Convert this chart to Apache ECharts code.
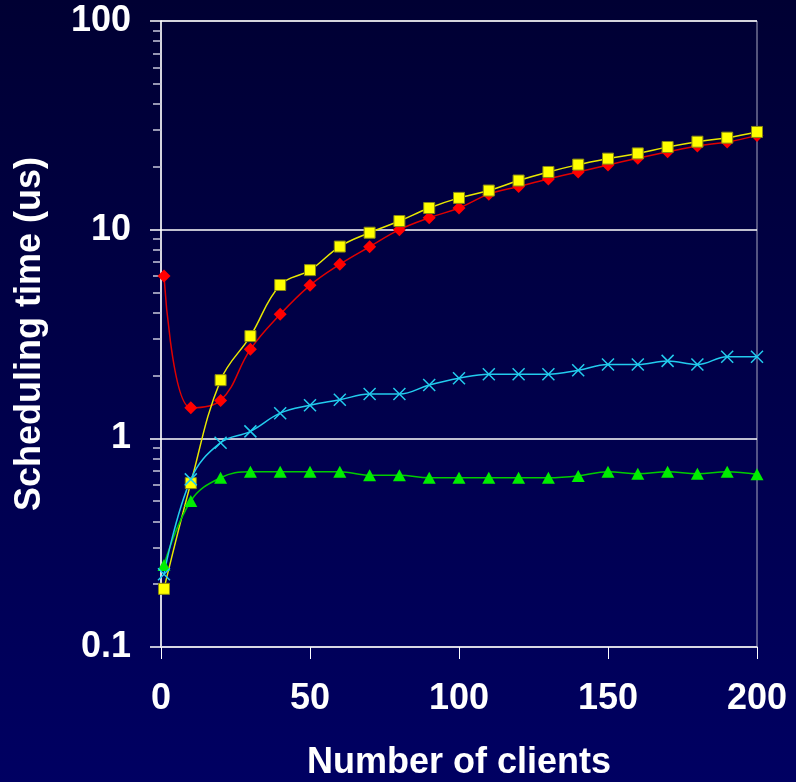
<!DOCTYPE html>
<html>
<head>
<meta charset="utf-8">
<script src="https://cdn.jsdelivr.net/npm/echarts@6/dist/echarts.min.js"></script>
<style>
html,body{margin:0;padding:0;background:#000040;}
#chart{width:796px;height:782px;}
</style>
</head>
<body>
<div id="chart"></div>
<script>
const clients = [1, 10, 20, 30, 40, 50, 60, 70, 80, 90, 100, 110, 120, 130, 140, 150, 160, 170, 180, 190, 200];
const redSeries = [6.0, 1.40, 1.52, 2.67, 3.93, 5.41, 6.82, 8.28, 10.0, 11.4, 12.7, 14.8, 16.1, 17.5, 18.9, 20.4, 22.0, 23.6, 25.2, 26.3, 28.3];
const yellowSeries = [0.19, 0.61, 1.90, 3.09, 5.43, 6.40, 8.3, 9.67, 11.0, 12.7, 14.2, 15.4, 17.2, 18.9, 20.5, 21.9, 23.2, 24.9, 26.4, 27.6, 29.4];
const cyanSeries = [0.223, 0.636, 0.953, 1.08, 1.32, 1.44, 1.53, 1.63, 1.63, 1.80, 1.94, 2.03, 2.03, 2.03, 2.12, 2.26, 2.26, 2.35, 2.26, 2.46, 2.46];
const greenSeries = [0.247, 0.501, 0.647, 0.692, 0.692, 0.692, 0.692, 0.665, 0.665, 0.647, 0.647, 0.647, 0.647, 0.647, 0.66, 0.692, 0.677, 0.692, 0.677, 0.692, 0.672];
const xTicks = [0, 50, 100, 150, 200];
const yMajorTicks = [0.1, 1, 10, 100];
const yMinorTicks = [0.2,0.3,0.4,0.5,0.6,0.7,0.8,0.9,2,3,4,5,6,7,8,9,20,30,40,50,60,70,80,90];

const pairs = arr => clients.map((c, i) => [c, arr[i]]);
const font = '"Liberation Sans", Arial, sans-serif';
const labelStyle = {color: '#ffffff', fontFamily: font, fontWeight: 'bold', fontSize: 36};

const chart = echarts.init(document.getElementById('chart'), null, {renderer: 'canvas'});
chart.setOption({
  animation: false,
  backgroundColor: {
    type: 'linear', x: 0, y: 0, x2: 0, y2: 1,
    colorStops: [{offset: 0, color: '#000033'}, {offset: 1, color: '#000062'}]
  },
  grid: {left: 161, right: 39, top: 21, bottom: 135, containLabel: false, outerBoundsMode: 'none',
         show: true, borderColor: '#a8a8c0', borderWidth: 1, backgroundColor: 'transparent'},
  xAxis: {
    type: 'value', min: 0, max: 200, interval: 50,
    name: 'Number of clients', nameLocation: 'middle', nameGap: 98,
    nameTextStyle: labelStyle,
    axisLine: {show: true, lineStyle: {color: '#d8d8e4', width: 1.5}},
    axisTick: {show: true, inside: false, length: 12, lineStyle: {color: '#ffffff', width: 1}, customValues: xTicks},
    axisLabel: Object.assign({margin: 34, customValues: xTicks}, labelStyle),
    splitLine: {show: false}
  },
  yAxis: [{
    type: 'log', logBase: 10, min: 0.1, max: 100,
    name: 'Scheduling time (us)', nameLocation: 'middle', nameGap: 113,
    nameTextStyle: labelStyle,
    axisLine: {show: true, lineStyle: {color: '#ffffff', width: 1.5}},
    axisTick: {show: true, inside: false, length: 11, lineStyle: {color: '#ffffff', width: 1.5}, customValues: yMajorTicks},
    axisLabel: Object.assign({margin: 30, customValues: yMajorTicks, formatter: v => String(v)}, labelStyle),
    splitLine: {show: true, lineStyle: {color: '#ffffff', width: 1.5}}
  }, {
    type: 'log', logBase: 10, min: 0.1, max: 100, position: 'left',
    axisLine: {show: false},
    axisTick: {show: true, inside: false, length: 8, lineStyle: {color: '#c8c8dc', width: 1.5}, customValues: yMinorTicks},
    axisLabel: {show: false},
    splitLine: {show: false}
  }],
  series: [
    {
      type: 'line', name: 'red', data: pairs(redSeries), smooth: 0.4,
      symbol: 'diamond', symbolSize: [13, 13],
      lineStyle: {color: '#e00000', width: 1.5},
      itemStyle: {color: '#ff0000'}
    },
    {
      type: 'line', name: 'yellow', data: pairs(yellowSeries), smooth: 0.4,
      symbol: 'rect', symbolSize: 11,
      lineStyle: {color: '#e8e800', width: 1.5},
      itemStyle: {color: '#ffff00', borderColor: '#8a8a10', borderWidth: 1}
    },
    {
      type: 'line', name: 'green', data: pairs(greenSeries), smooth: 0.4,
      symbol: 'triangle', symbolSize: [13, 12],
      lineStyle: {color: '#00cc00', width: 1.5},
      itemStyle: {color: '#00ee00'}
    },
    {
      type: 'line', name: 'cyan', data: pairs(cyanSeries), smooth: 0.4,
      symbol: 'path://M0,0L10,10M10,0L0,10', symbolSize: 12,
      lineStyle: {color: '#22ccee', width: 1.5},
      itemStyle: {color: 'transparent', borderColor: '#22ccee', borderWidth: 1.5}
    }
  ]
});
</script>
</body>
</html>
